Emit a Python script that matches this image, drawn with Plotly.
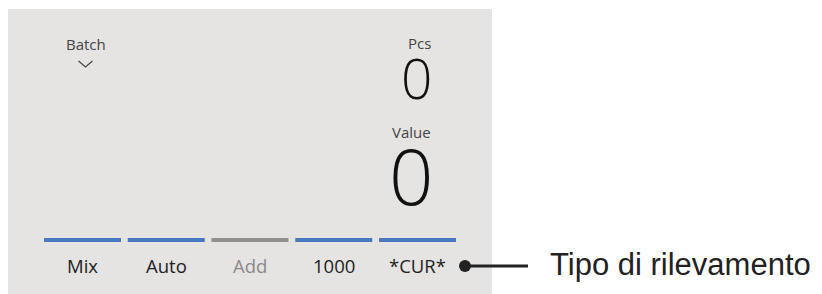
import plotly.graph_objects as go

# ---- data ----
buttons = ["Mix", "Auto", "Add", "1000", "*CUR*"]
button_active = [True, True, False, True, True]
pcs_label = "Pcs"
pcs_value = 0
value_label = "Value"
value_value = 0
mode_label = "Batch"
callout_text = "Tipo di rilevamento"

W, H = 822, 294
BLUE = "#4a78c0"
GREY = "#8f8f8f"
PANEL = "#e5e4e3"
TXT = "#222222"
SUB = "#444444"

fig = go.Figure()
# invisible trace to set up axes
fig.add_trace(go.Scatter(x=[0, W], y=[0, H], mode="markers",
                         marker=dict(opacity=0), hoverinfo="skip", showlegend=False))

shapes = []
ann = []

# panel
shapes.append(dict(type="rect", xref="x", yref="y", x0=8, x1=492, y0=9, y1=H + 5,
                   fillcolor=PANEL, line=dict(width=0), layer="below"))

# buttons
bx0, bw, gap = 44, 77, 6.75
for i, (lab, act) in enumerate(zip(buttons, button_active)):
    x0 = bx0 + i * (bw + gap)
    shapes.append(dict(type="rect", xref="x", yref="y", x0=x0, x1=x0 + bw, y0=238, y1=242,
                       fillcolor=BLUE if act else GREY, line=dict(width=0)))
    ann.append(dict(x=x0 + bw / 2, y=265.5, xref="x", yref="y", text=lab, showarrow=False,
                    xanchor="center", yanchor="middle",
                    font=dict(family="Open Sans", size=18.5, color=TXT if act else "#8a8a8a")))

# Batch + chevron
ann.append(dict(x=86, y=44, xref="x", yref="y", text=mode_label, showarrow=False,
                xanchor="center", yanchor="middle",
                font=dict(family="Open Sans", size=15, color=SUB)))
shapes.append(dict(type="path", xref="x", yref="y", path="M 78.5 61 L 85.5 67 L 92.5 61",
                   line=dict(color=SUB, width=1.2)))

# Pcs / Value
ann.append(dict(x=433, y=42.5, xref="x", yref="y", text=pcs_label, showarrow=False,
                xanchor="right", yanchor="middle",
                font=dict(family="Open Sans", size=15, color=SUB)))
ann.append(dict(x=434, y=77, xref="x", yref="y", text=str(pcs_value), showarrow=False,
                xanchor="right", yanchor="middle", height=52,
                font=dict(family="Open Sans", size=55, color="#111111", weight=300)))
ann.append(dict(x=433, y=131.5, xref="x", yref="y", text=value_label, showarrow=False,
                xanchor="right", yanchor="middle",
                font=dict(family="Open Sans", size=15, color=SUB)))
ann.append(dict(x=436, y=174.5, xref="x", yref="y", text=str(value_value), showarrow=False,
                xanchor="right", yanchor="middle", height=70,
                font=dict(family="Open Sans", size=78, color="#111111", weight=300)))

# callout
shapes.append(dict(type="line", xref="x", yref="y", x0=465, x1=528, y0=266, y1=266,
                   line=dict(color=TXT, width=3)))
shapes.append(dict(type="circle", xref="x", yref="y", x0=459, x1=471, y0=260, y1=272,
                   fillcolor=TXT, line=dict(width=0)))
ann.append(dict(x=548, y=264, xref="x", yref="y", text=callout_text, showarrow=False,
                xanchor="left", yanchor="middle",
                font=dict(family="Liberation Sans", size=31, color=TXT)))

fig.update_layout(
    width=W, height=H, margin=dict(l=0, r=0, t=0, b=0),
    paper_bgcolor="white", plot_bgcolor="white",
    xaxis=dict(range=[0, W], visible=False, fixedrange=True),
    yaxis=dict(range=[H, 0], visible=False, fixedrange=True),
    shapes=shapes, annotations=ann, showlegend=False,
)
fig.write_html("out.html", config={"displayModeBar": False},
               post_script="document.body.style.margin='0';document.body.style.overflow='hidden';")
